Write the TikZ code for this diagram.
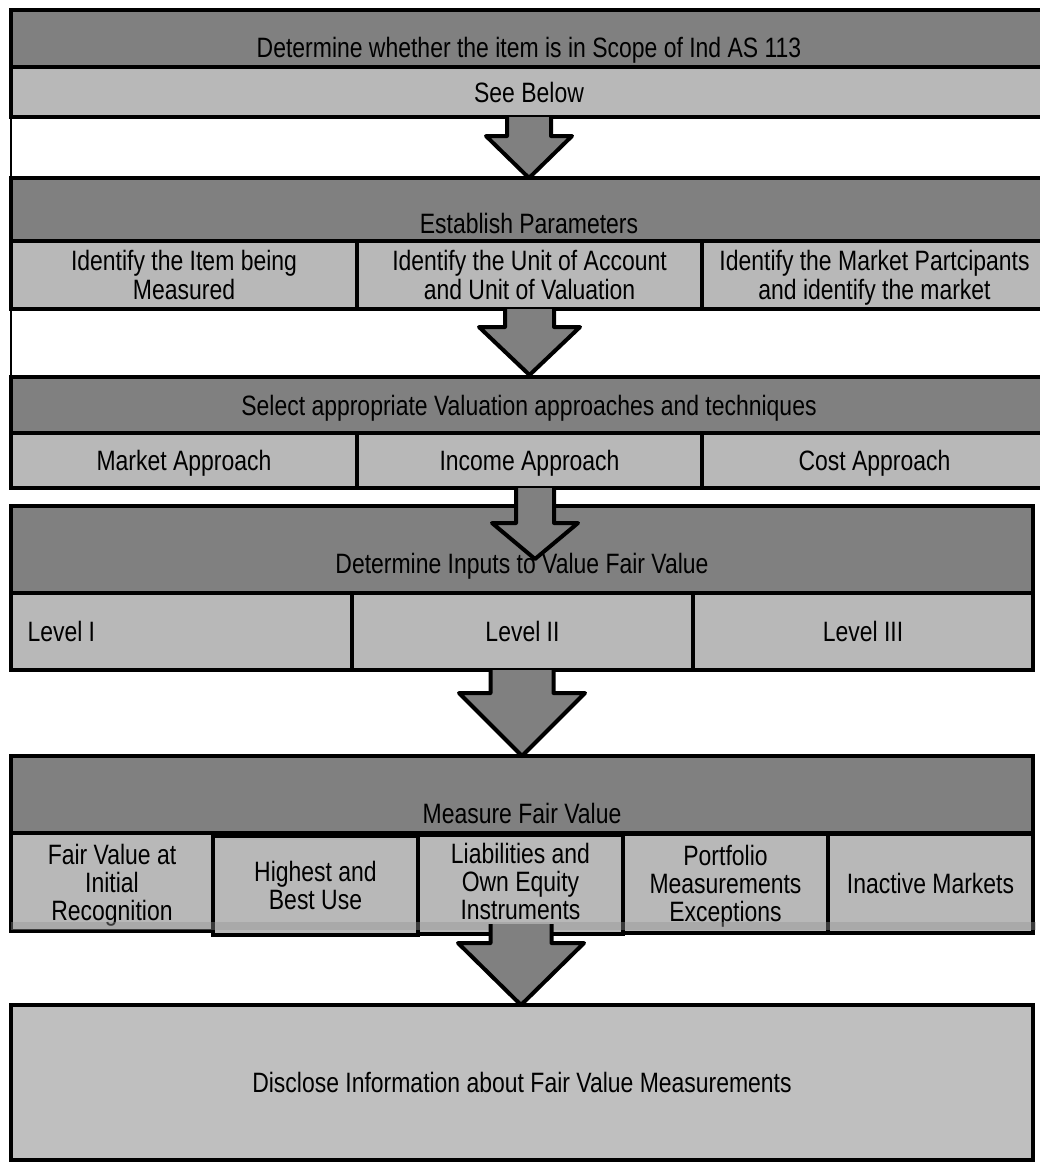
\documentclass[tikz,border=0pt]{standalone}
\usepackage{fontspec}
\setmainfont{Liberation Sans}[FakeStretch=0.82]
\usetikzlibrary{calc}

\begin{document}
\begin{tikzpicture}[
    x=1pt, y=-1pt,
    box/.style={draw=black, line width=4pt, inner sep=0pt, outer sep=0pt,
      font=\fontsize{28}{29}\selectfont, align=center, text depth=0pt},
    head/.style={box, fill=black!50},
    cell/.style={box, fill=black!28},
    tight/.style={font=\fontsize{28}{28}\selectfont},
    txt/.style={font=\fontsize{28}{29}\selectfont, inner sep=0pt, anchor=base},
    blockarrow/.style={draw=black, line width=4pt, line join=round, fill=black!50},
]

\useasboundingbox (0,0) rectangle (1040,1164);
\clip (0,0) rectangle (1040,1164);

% Scope
\node[head, minimum width=1036pt, minimum height=57pt] (h1) at (529,38.5) {};
\node[cell, minimum width=1036pt, minimum height=50pt] (r1) at (529,92) {See Below};
\node[txt] (t1) at ($(h1.south)+(0,-10)$) {Determine whether the item is in Scope of Ind AS 113};

% Parameters
\node[head, minimum width=1036pt, minimum height=63pt] (h2) at (529,209.5) {};
\node[cell, minimum width=346pt, minimum height=68pt] (r2a) at (184,275) {Identify the Item being\\Measured};
\node[cell, minimum width=345pt, minimum height=68pt] (r2b) at (529.5,275) {Identify the Unit of Account\\and Unit of Valuation};
\node[cell, minimum width=345pt, minimum height=68pt] (r2c) at (874.5,275) {Identify the Market Partcipants\\and identify the market};
\node[txt] (t2) at ($(h2.south)+(0,-8)$) {Establish Parameters};

% Approaches
\node[head, minimum width=1036pt, minimum height=56pt] (h3) at (529,405) {};
\node[cell, minimum width=346pt, minimum height=55pt] (r3a) at (184,460.5) {Market Approach};
\node[cell, minimum width=345pt, minimum height=55pt] (r3b) at (529.5,460.5) {Income Approach};
\node[cell, minimum width=345pt, minimum height=55pt] (r3c) at (874.5,460.5) {Cost Approach};
\node[txt] (t3) at ($(h3.south)+(0,-18)$) {Select appropriate Valuation approaches and techniques};

% Inputs
\node[head, minimum width=1022pt, minimum height=87pt] (h4) at (522,549.5) {};
\node[cell, minimum width=341pt, minimum height=77pt, text width=308pt, align=flush left] (r4a) at (181.5,631.5) {Level I};
\node[cell, minimum width=341pt, minimum height=77pt] (r4b) at (522.5,631.5) {Level II};
\node[cell, minimum width=340pt, minimum height=77pt] (r4c) at (863,631.5) {Level III};
\node[txt] (t4) at ($(h4.south)+(0,-20)$) {Determine Inputs to Value Fair Value};

% Measure
\node[head, minimum width=1022pt, minimum height=77pt] (h5) at (522,794.5) {};
\node[cell, tight, minimum width=202pt, minimum height=98pt] (r5a) at (112,882) {Fair Value at\\Initial\\Recognition};
\node[cell, tight, minimum width=205pt, minimum height=99pt] (r5b) at (315.5,885.5) {Highest and\\Best Use};
\node[cell, tight, minimum width=205pt, minimum height=99pt] (r5c) at (520.5,884.5) {};
\node[cell, tight, minimum width=205pt, minimum height=99pt] (r5d) at (725.5,883.5) {Portfolio\\Measurements\\Exceptions};
\node[cell, tight, minimum width=205pt, minimum height=99pt] (r5e) at (930.5,883.5) {Inactive Markets};
\node[tight, align=center, inner sep=0pt, text depth=0pt] (t5c) at (520.5,881) {Liabilities and\\Own Equity\\Instruments};
\node[txt] (t5) at ($(h5.south)+(0,-10)$) {Measure Fair Value};
\fill[black!42, opacity=0.4] (11,922) rectangle (1036,930);

% Disclose
\node[cell, fill=black!25, minimum width=1022pt, minimum height=155pt] (r6) at (522,1082.5) {Disclose Information about Fair Value Measurements};

% frame line on the left
\draw[line width=1.5pt] (r1.south west) -- (h3.north west);

% arrows
\coordinate (a1-s) at (529,117);   \coordinate (a1-t) at (529,178);
\coordinate (a2-s) at (529.5,309); \coordinate (a2-t) at (529.5,375);
\coordinate (a3-s) at (535,488);   \coordinate (a3-t) at (535,559);
\coordinate (a4-s) at (522,670);   \coordinate (a4-t) at (522,756);
\coordinate (a5-s) at (521,924);   \coordinate (a5-t) at (521,1005);

\foreach \arr/\sw/\hw/\hl in {a1/22/43/42, a2/24.5/50.5/48, a3/19/43/36, a4/31.5/63/63, a5/30.5/63/62}
  \filldraw[blockarrow]
    ($(\arr-s)+(-\sw,0)$) -- ($(\arr-t)+(-\sw,-\hl)$) -- ($(\arr-t)+(-\hw,-\hl)$)
    -- (\arr-t) -- ($(\arr-t)+(\hw,-\hl)$) -- ($(\arr-t)+(\sw,-\hl)$)
    -- ($(\arr-s)+(\sw,0)$);

\end{tikzpicture}
\end{document}
